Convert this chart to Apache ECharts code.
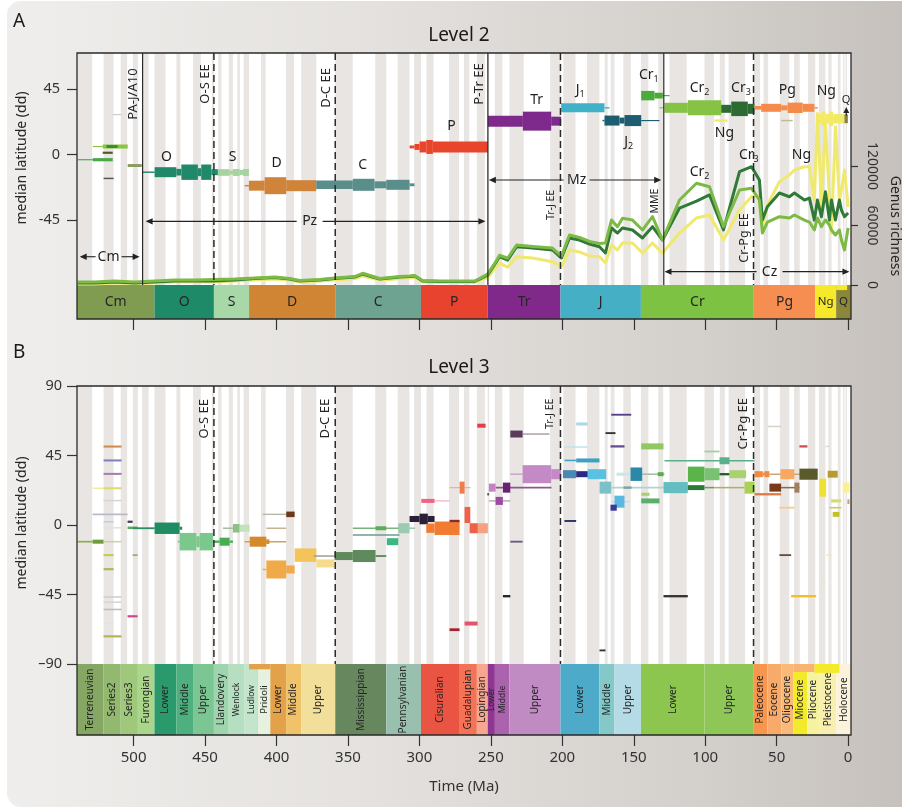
<!DOCTYPE html>
<html><head><meta charset="utf-8">
<script src="https://cdn.jsdelivr.net/npm/echarts@6.0.0/dist/echarts.min.js"></script>
<style>
html,body{margin:0;padding:0;background:#fff;width:902px;height:809px;overflow:hidden}
#bg{position:absolute;left:7px;top:1px;width:910px;height:806px;border-radius:14px;background:linear-gradient(to right,#efeeec 0%,#e4e1de 40%,#d4d0cc 75%,#c5c0bc 100%)}
#chart{position:absolute;left:0;top:0;width:902px;height:809px}
</style></head><body><div id="bg"></div><div id="chart"></div>
<script>
// ================= DATA =================
const timeTicks = [0,50,100,150,200,250,300,350,400,450,500];
const latTicksA = [-45,0,45];
const latTicksB = [-90,-45,0,45,90];
const richTicks = [0,60000,120000];

// stage boundaries (Ma) -> alternating background stripes
const stageBounds = [541,529,521,514,509,504.5,500.5,497,494,489.5,485.4,477.7,470,467.3,458.4,453,445.2,443.8,440.8,438.5,433.4,430.5,427.4,425.6,423,419.2,410.8,407.6,393.3,387.7,382.7,372.2,358.9,346.7,330.9,323.2,315.2,307,303.7,298.9,295,290.1,279.3,272.3,268.8,265.1,259.8,254.2,252.2,251.2,247.2,242,237,227,208.5,201.3,199.3,190.8,182.7,174.1,170.3,168.3,166.1,163.5,157.3,152.1,145,139.8,132.9,129.4,125,113,100.5,93.9,89.8,86.3,83.6,72.1,66,61.6,59.2,56,47.8,41.2,37.8,33.9,28.1,23.03,20.44,15.97,13.82,11.62,7.246,5.333,3.6,2.58,1.8,0.781,0.126,0.0117,-2];

// Level 2 time scale (periods, as drawn)
const periodNames = ['Cm','O','S','D','C','P','Tr','J','Cr','Pg','Ng','Q'];
const periodStart = [541,485.4,443.8,419.2,358.9,298.9,252.2,201.3,145,66,23,8.4];
const periodEnd   = [485.4,443.8,419.2,358.9,298.9,252.2,201.3,145,66,23,8.4,-2];
const overhangA = [[8.4,0.7,'Ng']];

// Level 3 time scale (epochs, as drawn)
const epochNames = ['Terreneuvian','Series2','Series3','Furongian','Lower','Middle','Upper','Llandovery','Lower','Wenlock','Ludlow','Pridoli','Middle','Upper','Mississippian','Pennsylvanian','Cisuralian','Guadalupian','Lopingian','Lower','Middle','Upper','Lower','Middle','Upper','Lower','Upper','Paleocene','Eocene','Oligocene','Miocene','Pliocene','Pleistocene','Holocene'];
const epochStart = [541,521,509,497,485.4,470,458.4,443.8,419.2,433.4,422.3,413.2,393.3,382.7,358.9,323.2,298.9,272.3,259.8,252.2,247.2,237,201.3,174.1,163.5,145,100.5,66,56.5,46.7,38.3,28.5,20.1,8.2];
const epochEnd   = [521,509,497,485.4,470,458.4,443.8,433.4,393.3,422.3,413.2,404.3,382.7,358.9,323.2,298.9,272.3,259.8,252.2,247.2,237,201.3,174.1,163.5,145,100.5,66,56.5,46.7,38.3,28.5,20.1,8.2,-2];
const epochLabelAt = {8: 398.8};
const overhangB = [[419.2,404.3,'dev'],[38.3,23.5,'pg'],[23.5,6.1,'ng']];

// Genus richness curves
const richTime = [539.1,527.3,513.3,499.3,485.3,471.3,457.3,443.9,429.2,415.2,401.2,390.8,383.8,369.8,359.3,345.3,339.7,327.8,320.8,313.8,306.8,303.3,297.8,285.9,271.9,261.4,257.9,252.3,248.1,243.9,238.3,232.0,220.8,206.9,200.6,195.0,188.0,181.0,174.0,169.8,165.6,161.4,157.9,150.9,143.9,136.9,129.9,118.0,106.1,97.0,87.2,76.0,67.6,62.1,60.0,56.5,48.1,41.1,37.6,30.6,27.1,23.6,21.5,18.7,15.9,13.1,11.7,8.9,6.1,4.7,2.6,0];
const richDark = [2000,2000,3000,2000,3000,4000,4000,4000,5000,6500,7500,6000,4000,5000,6500,8000,11000,6000,7000,8000,8500,9000,4000,3500,3500,3500,6000,10000,19000,28500,25000,38600,37300,35300,27200,47400,45400,41300,38600,32300,57500,52400,57500,55500,47400,58800,45400,77600,84700,90800,55500,114300,119300,106000,65500,79000,92800,89000,92800,85700,87700,65500,85700,68900,94000,65500,85700,65500,85700,75600,68900,72600];
const richLight = [3000,3000,4000,3000,4000,5000,5000,5500,6000,7000,8000,6500,4500,5500,7000,8500,11800,6500,7500,8500,9000,9500,4500,4000,4000,4000,6500,11000,20000,30000,27000,40300,38800,37300,29200,50400,47900,43900,41800,42300,65500,58800,67300,65500,55500,68900,45400,85700,102600,99100,58800,95800,97500,85700,52400,63500,68900,67600,70600,65500,63500,55500,67600,58800,65500,60500,55500,50400,55500,45400,35300,57500];
const richYellow = [1000,1000,2000,1500,2000,3000,3000,3000,4000,5000,6000,5000,3000,4000,5000,6500,9000,5000,5500,6500,7000,7500,3000,2500,2500,2500,5000,7000,15000,22000,18000,28500,27200,23500,18500,35300,33300,29200,28500,22200,40300,35300,42400,42400,32300,42400,32300,52400,67600,70600,45400,75600,89000,89700,58800,80700,104200,111000,116000,119300,119300,85700,173000,79000,166000,85700,52400,159700,85700,95800,116000,78700];

// Level 2 kites: [group, median latitude, from (Ma), to (Ma), thickness (deg)]
const l2Rows = [
 ['cmG',-3.6,539,528.6,0.8],['cmG',-3.6,528.6,514.6,2.2],
 ['cmL',5.5,528.6,521.6,0.8],['cmL',5.5,521.6,504.1,2.8],['cmD',5.5,519,511.2,2],
 ['cmK',1.2,521.6,514.6,1.5],['cmX',-16.5,521,514,1],['cmY',27.5,514.6,508.3,0.6],['cmO',-7.6,504.1,494.3,2],
 ['O',-12.2,493.7,485.3,1],['O',-12.2,485.3,470.1,6.9],['O',-12.2,470.1,466.6,4.6],['O',-12.2,466.6,455,10.6],['O',-12.2,455,452.7,5.5],['O',-12.2,452.7,445.6,10.6],['O',-12.2,445.6,441,4.1],
 ['S',-12.4,441,432.8,4.6],['S',-12.4,432.8,430.5,2.8],['S',-12.4,430.5,425.8,4.8],['S',-12.4,425.8,423.5,3.4],['S',-12.4,423.5,419.3,4.8],
 ['D',-21.5,422.3,419.3,1],['D',-21.5,419.3,408.3,6.9],['D',-21.5,408.3,393.2,11.7],['D',-21.5,393.2,372.2,7.6],
 ['C',-20.9,372.2,346.6,5.8],['C',-20.9,346.6,331.4,8.3],['C',-20.9,331.4,323.2,4.8],['C',-20.9,323.2,306.9,6.9],['C',-20.9,306.9,303.4,2],
 ['P',5.2,306.9,303.4,2],['P',5.2,303.4,299.9,4.1],['P',5.2,299.9,295.2,7.6],['P',5.2,295.2,290.6,9.6],['P',5.2,290.6,252.1,7.6],
 ['Tr',23,252.1,227.6,7.6],['Tr',23,227.6,207.8,13.1],['Tr',23,207.8,200.8,6.2],
 ['J1',32.2,200.8,170.5,6.2],['J1',32.2,170.5,167,1],
 ['J2',23.4,171.9,170.5,1],['J2',23.4,170.5,160,6.9],['J2',23.4,160,156.5,4.1],['J2',23.4,156.5,144.8,7.6],['J2',23.4,144.8,132,0.8],
 ['Cr1',40.6,144.8,135.5,6.5],['Cr1',40.6,135.5,129.7,4],['Cr1',40.6,129.7,125,0.8],
 ['Cr2',32.2,132,128.5,0.8],['Cr2',32.2,128.5,112.2,6.9],['Cr2',32.2,112.2,88.8,10.3],
 ['Cr3',31.5,88.8,81.8,5.5],['Cr3',31.5,81.8,70.2,10],['Cr3',31.5,70.2,65.5,6.9],
 ['NgL',23.4,93.5,84.4,1.6],['PgG',23.4,46.9,38.8,1],
 ['Pg',32.2,65.5,60.9,2.5],['Pg',32.2,60.9,46.9,5.5],['Pg',32.2,46.9,42.3,3.4],['Pg',32.2,42.3,31.8,7.2],['Pg',32.2,31.8,23.6,5.5],['Pg',32.2,23.6,21.3,1],
 ['Ng',24.6,22.4,18.7,6.5],['Ng',24.6,18.7,15.9,10],['Ng',24.6,15.9,13.1,6.5],['Ng',24.6,13.1,10.5,10],['Ng',24.6,10.5,2.6,6.5],
 ['Q',24.6,2.6,0.2,6]
];

// Level 3 kites: [group, median latitude, from (Ma), to (Ma), thickness (deg)]
const l3Rows = [
 ['c1',50.8,521,508.4,1.3],['c2',41.8,521,508.4,1.3],['c3',33.1,521,508.4,1.3],['c4a',23.8,528.7,521,1],['c4',23.8,521,508.4,1.3],
 ['c5',15.8,521,508.4,1],['c6',6.9,528.7,504.2,1.1],['c7',2.1,521,514,1],['c8',2.1,504.2,500.7,1.5],['c9',-1.8,521,508.4,1],
 ['c10',-1.8,504.2,497.2,1.6],['c11',-10.8,539.1,528.7,1.1],['c12',-10.8,528.7,521,2.6],['c13',-10.8,521,508.4,1],
 ['c14',-19.5,521,514,1.4],['c15',-19.5,500.7,497.2,1.1],['c16',-28.6,521,514,1.4],['c17',-46.6,521,508.4,1],['c5',-50,521,508.4,1],
 ['c18',-54.7,521,508.4,1],['c19',-59.1,504.2,497.2,1.4],['c9',-63.8,521,514,1],['c16',-72.1,521,508.4,1.4],
 ['o0',-2.1,500.7,485.3,1.2],['o1',-2.1,485.3,467.8,7.4],['o1',-2.1,467.8,466,2],
 ['o2',-10.8,469,467.8,1.2],['o2',-10.8,467.8,456.1,11.3],['o2',-10.8,456.1,453.8,7],['o2',-10.8,453.8,444.5,11.3],
 ['o3',-10.8,444.5,439.8,1.5],['o3',-10.8,439.8,432.8,5.2],['o3',-10.8,432.8,430.5,1.5],
 ['s0',-2.1,437.5,430.5,1],['s1',-2.1,430.5,425.8,5.5],['s2',-2.1,425.8,418.8,4.6],
 ['d0',-10.8,422.3,393.2,1],['d1',-10.8,418.8,407.1,6.5],['d1',-10.8,407.1,405,3],['d2',6.9,409.7,393.2,0.9],['d3',-2.1,407.1,393.2,0.9],
 ['d4',6.9,393.2,387.3,3.6],['d5',-28.8,409.7,407.1,1],['d5',-28.8,407.1,393.2,11.7],['d5',-28.8,393.2,387.3,5.2],
 ['d6',-19.5,387.3,372.1,8.7],['d7',-24.9,372.1,359.4,5.2],
 ['k0',-20.1,374,359.4,1],['k1',-20.1,359.4,346.6,5.2],['k1',-20.1,346.6,330.7,7.8],['k1',-20.1,330.7,323.2,1.2],
 ['k2',-2.1,346.6,306.9,1],['k3',-2.1,330.7,323.2,2.6],['k4',-6.5,346.6,313.9,1],['k5',-10.8,322.8,314.8,4.5],
 ['k6',-2.1,314.8,306.9,6.5],['k6',-2.1,306.9,303,1],
 ['p1',3.9,306.9,299.9,3.9],['p1',3.9,299.9,294.1,6.9],['p1',3.9,294.1,289.4,3.9],
 ['p2',-2.1,295.2,289.4,6],['p2',-2.1,289.4,271.9,8.7],['p3',2.6,278.9,271.9,1.5],
 ['p4',15.6,298.7,289.4,2.6],['p4l',15.6,289.4,278.9,0.8],['p5l',24.2,278.9,264.2,0.8],['p5',24.2,271.9,268.4,7.8],
 ['p6',6.5,268.4,264.4,10.4],['p7',-2.1,264.9,259.1,6.5],['p8',-2.1,259.1,252.1,6.5],['p9',64.3,259.5,253.7,2.6],
 ['p10',-67.8,278.9,271.9,1.8],['p11',-63.8,268.4,259.3,2.6],
 ['t1',-46.1,241.6,236.4,1.5],['t2',-10.8,236.4,227.8,1.2],['t3l',24.2,246.7,207.6,1.2],['t3',24.2,251.4,246.7,5.2],
 ['t4',24.2,241.6,236.4,6.5],['t5l',15.6,251.4,236.4,0.8],['t5',15.6,246.7,241.6,5.2],['t6l',58.9,227.8,209,0.8],
 ['t6',58.9,236.4,227.8,4.5],['t7l',32.9,236.4,227.8,1],['t7',32.9,227.8,207.8,11.7],['t7',32.9,207.8,200.8,6.5],['t8',19.9,252.5,251.2,1.5],
 ['j1',65.4,190.3,182.2,2],['j2',50.5,198.5,182.2,1],['j3',41.8,198.5,190.3,1],['j3',41.8,190.3,174,2.6],
 ['j4',32.9,199.6,190.3,5.2],['j5',32.9,190.3,182.2,3.9],['j6',32.9,182.2,169.3,6.5],['j7',2.6,198.5,190.3,1.2],
 ['j8',71.4,165.8,151.8,1.2],['j9',59.5,169.8,162.8,1.2],['j10',50.9,166.3,156.5,1.5],['j11',32.9,162.1,153,2],
 ['j13l',32.9,144.1,128.5,1],['j12',32.9,152.3,144.1,8.7],['k7',32.9,133.2,129.2,2.6],['k8',50.9,144.8,129.2,3.9],
 ['j14l',24.2,165.8,128.5,1],['j14',24.2,174,165.8,7.8],['j15',24.2,157.2,151.6,1.5],['j16l',15.1,165.6,153,0.8],
 ['j16',15.1,163.5,156.5,7.8],['j17',11.2,166.3,161.9,3.9],['k9',19.9,144.8,139,2],['k10',15.6,144.8,132,3.2],['j18',-81.2,174,169.8,1.2],
 ['k11',41.6,128.5,65.5,1],['k11',41.6,90,83,4.5],['k12',47.6,100.5,90,1.2],['k13',24.2,129.2,112.2,7.2],
 ['k14',24.2,112.2,100.5,3.2],['k14l',24.2,100.5,93.5,1],['k15',32.9,112.2,100.5,9.8],['k16',32.9,100.5,90,7.8],
 ['k17',32.9,90,83,1.5],['k18',32.9,83,71.4,5.2],['k19l',24.2,93.5,72.5,1],['k19',24.2,72.5,65.5,7.8],['k20',-46.1,129.2,112.2,1.5],
 ['g0',32.9,55.1,21.5,1],['g1',32.9,65.5,59.7,3.9],['g1',32.9,59.7,58.6,2],['g1',32.9,58.6,55.1,3.9],['g2',32.9,47.4,37.6,6.5],
 ['g3',32.9,34.1,21.3,7.2],['g4',32.9,14.3,7.3,4.5],['g5',63.8,56.5,46.7,1],['g6',50.9,34.1,28.5,1.5],['g7',50.9,15.9,13.1,1],
 ['g8l',24.2,47.4,34.1,1],['g8',24.2,55.1,46.9,5.2],['g9',24.2,37.6,34.1,6.5],['g10',19.9,65.5,46.9,1.5],['g11',24.2,20.1,15.4,11.7],
 ['g12',24.2,3.8,-0.9,6.5],['g13',15.6,11.9,4.9,2],['g14',6.9,10.8,6.1,3.2],['g15',11.2,13.1,4.7,1],['g16',11.2,48.1,37.6,1.2],
 ['g17',-19.5,48.1,39.9,1.2],['g18',-46.1,39.9,22.4,1.5],['g19',-19.5,15.2,11,1],['g20',-37.5,18.7,15.9,0.8],['g21',15.1,0.5,-0.9,3]
];

// extinction events / boundaries
const eventNamesA = ['PA-J/A10','O-S EE','D-C EE','P-Tr EE','Tr-J EE','MME','Cr-Pg EE'];
const eventAgesA = [493.7,443.8,358.9,252.1,201.3,129.0,66.2];
const eventLabelLatA = [41.7,48.6,45.9,48.6,-34.8,-32.1,-57.6];
const eventNamesB = ['O-S EE','D-C EE','Tr-J EE','Cr-Pg EE'];
const eventAgesB = [443.8,358.9,201.3,66.2];
const eventLabelLatB = [68.8,68.8,72,65.6];

// era arrows: [label, from (Ma), to (Ma), latitude, label age]
const arrowsA = [['Cm',537.7,495.8,-70.5,517.5],['Pz',491.6,253.8,-46.1,376.8],['Mz',251.4,130.8,-17.6,190],['Cz',128.5,-0.9,-80.8,55]];
const qArrow = [1.3,26.8,32.8];

// kite / curve labels: [text, subscript, age, latitude]
const labelsA = [['O','',477,-1.7],['S','',430.7,-1.7],['D','',400,-5.9],['C','',339.7,-7.2],['P','',277.5,19.7],['Tr','',218,37.6],
 ['J','1',187.5,44.5],['J','2',153.5,8.6],['Cr','1',139.5,54.8],['Cr','2',104,45.9],['Cr','3',75,45.9],['Pg','',42.5,44.5],
 ['Ng','',15.3,43.8],['Q','',1.4,37.8],['Ng','',86.6,14.8],['Cr','2',104,-12.1],['Cr','3',69.5,-0.3],['Ng','',32.7,-0.3]];

// ================= STYLE =================
const FONT = "'Noto Sans','Open Sans',sans-serif";
const TXT = '#262626';
const stripeColor = '#e8e5e3';
const periodColors = ['#7f9c50','#1f8a68','#a9d8a8','#cf8533','#6ea392','#e8432e','#80298b','#45afc5','#7dc242','#f58e50','#f6e82a','#8b8639'];
const epochColors = ['#86a764','#93b86f','#a0c87d','#aad68b','#2a9a6c','#4db07e','#7cc693','#9ed5ae','#e3a24a','#b6dfc1','#c3e5cc','#e6f2df','#f0c26a','#f1df9a','#67885f','#99bfae','#ea5543','#f47357','#f5a790','#8f3592','#ab63ad','#c08bc3','#4eaac9','#84c8c8','#b5dce6','#8dc64f','#8ec758','#f8964e','#f8aa6a','#f9b978','#f2ea2a','#f6f3a0','#f7f0b0','#fbf3dc'];
const overColors = {Ng:'#f6e82a', dev:'#e3a24a', pg:'#f8b470', ng:'#f2ea2a'};
const overFracA = {Ng:0.15};
const overFracB = {dev:0.075, pg:0.113, ng:0.125};
const epochFont = {8:10,9:8.5,10:8.5,11:9.5,19:8,20:8.5};
const l2Colors = {cmG:'#4aa84a',cmL:'#8cc63f',cmD:'#2f8f3a',cmK:'#55552e',cmX:'#555555',cmY:'#c8c8c8',cmO:'#8a9a5b',
 O:'#21896a',S:'#a6d3a0',D:'#d0843a',C:'#5a8e8a',P:'#e8452c',Tr:'#7d2a8c',J1:'#40b1c8',J2:'#1d5d70',Cr1:'#4aaa3a',
 Cr2:'#86c244',Cr3:'#2e6b34',Pg:'#f48b4a',Ng:'#f2ea64',Q:'#8b8236',NgL:'#f2ea64',PgG:'#c8b890'};
const l3Colors = {c1:'#d0894a',c2:'#7f7fc0',c3:'#a77ab0',c4a:'#f0ee9a',c4:'#d9dc6a',c5:'#d6d6d6',c6:'#b9b9cc',c7:'#bfcde6',c8:'#4b3b5b',c9:'#e2e2e2',
 c10:'#5aac5a',c11:'#86b04a',c12:'#6e9e3c',c13:'#cfcfa8',c14:'#c9c955',c15:'#a5a565',c16:'#b4b455',c17:'#cfcfcf',c18:'#bdbdbd',c19:'#d1458a',
 o0:'#2b8f63',o1:'#1f8c63',o2:'#7bc78c',o3:'#46ad52',s0:'#a0c0a0',s1:'#8fbf89',s2:'#c3e2b9',
 d0:'#c9a561',d1:'#d5882c',d2:'#b7b7a7',d3:'#bfae8a',d4:'#6d3a19',d5:'#f0aa4a',d6:'#f4c45b',d7:'#f6da8e',
 k0:'#a0a090',k1:'#5e8a5d',k2:'#78b478',k3:'#5aae5a',k4:'#709a8c',k5:'#3bb882',k6:'#9ec9b2',
 p1:'#2b1f3a',p2:'#f17c31',p3:'#8a2a2a',p4:'#f06385',p4l:'#f3b0c0',p5l:'#f0b098',p5:'#f07b4b',p6:'#f0614a',p7:'#ee6149',p8:'#f6a182',p9:'#e83b4a',p10:'#a02232',p11:'#e8526c',
 t1:'#222222',t2:'#6a5a7a',t3l:'#8a5a8a',t3:'#c483c4',t4:'#6b2171',t5l:'#b690b6',t5:'#9a4aa1',t6l:'#9a8a9a',t6:'#5b3b5b',t7l:'#c9a8ca',t7:'#c48ac6',t8:'#4a5a2a',
 j1:'#a9d9ec',j2:'#c3e2ee',j3:'#3fa1c2',j4:'#4a89b1',j5:'#2a2a80',j6:'#5bc1e1',j7:'#2a2a60',j8:'#5b3b8b',j9:'#333333',j10:'#6b4b9b',j11:'#c9e5ed',
 j12:'#2a89a8',j13l:'#a0c0a8',j14l:'#b0d2d2',j14:'#7ac1c8',j15:'#7aa1a1',j16l:'#b8dcef',j16:'#5bb8e1',j17:'#3a3a9b',j18:'#333333',
 k7:'#5aab4a',k8:'#91c861',k9:'#a9d171',k10:'#5ab06b',k11:'#5ab08a',k12:'#a1d1a1',k13:'#63bdc1',k14:'#2a7a3a',k14l:'#6a9a6a',k15:'#5ab44b',
 k16:'#7ac171',k17:'#2a5a2a',k18:'#a9d171',k19l:'#b1b161',k19:'#a9d152',k20:'#333333',
 g0:'#c9a879',g1:'#f08a41',g2:'#f8a861',g3:'#5a5a2a',g4:'#b89a31',g5:'#d9d1c1',g6:'#d05050',g7:'#e1d9d1',g8l:'#8a6a50',g8:'#7a3a1a',
 g9:'#a08060',g10:'#e07a40',g11:'#f0e031',g12:'#f8f091',g13:'#d9d971',g14:'#c1c121',g15:'#c9c961',g16:'#f8c891',g17:'#6a4a3a',
 g18:'#f0c021',g19:'#f0e8b0',g20:'#ece4c0',g21:'#c0a070'};
const solidEvents = {'PA-J/A10':true,'P-Tr EE':true,'MME':true};
const eventFontA = {'Tr-J EE':10.5,'MME':10.5,'Cr-Pg EE':12.5};
const eventFontB = {'Tr-J EE':10.5};
const smallLabel = {Q:11};

// ================= RENDER =================
const AGE_MIN = -2, AGE_MAX = 539.6;
const BAR_A_MAX = 266/34, BAR_B_MAX = 349/71;
const chart = echarts.init(document.getElementById('chart'));

function clip(r, cs){ return echarts.graphic.clipRectByRect(r,{x:cs.x,y:cs.y,width:cs.width,height:cs.height}); }
function spanRect(api,t0,t1,v0,v1){
  const a = api.coord([t0,v1]), b = api.coord([t1,v0]);
  return {x:Math.min(a[0],b[0]), y:Math.min(a[1],b[1]), width:Math.abs(b[0]-a[0]), height:Math.abs(b[1]-a[1])};
}
const stripeSpans = [];
for (let i=0;i<stageBounds.length-1;i+=2) stripeSpans.push([stageBounds[i],stageBounds[i+1],0]);

function stripeSeries(xi,yi){
  return {type:'custom', xAxisIndex:xi, yAxisIndex:yi, z:1, silent:true, encode:{x:[0,1],y:2},
    data: stripeSpans,
    renderItem:(p,api)=>{
      const a = api.coord([api.value(0),1]), b = api.coord([api.value(1),1]);
      const cs = p.coordSys;
      const r = {x:Math.min(a[0],b[0]), y:cs.y, width:Math.abs(b[0]-a[0]), height:a[1]-cs.y};
      const c = clip(r,cs); if(!c) return null;
      return {type:'rect', shape:c, style:{fill:stripeColor}};
    }};
}
function barSeries(xi,yi,starts,ends,names,colors,fontFn,rot,labelAt){
  return {type:'custom', xAxisIndex:xi, yAxisIndex:yi, z:2, silent:true, encode:{x:[0,1],y:2},
    data: starts.map((s,i)=>[s,ends[i],0]),
    renderItem:(p,api)=>{
      const i = p.dataIndex;
      const c = clip(spanRect(api,starts[i],ends[i],0,1),p.coordSys); if(!c) return null;
      let cx = c.x + c.width/2;
      if (labelAt && labelAt[i] !== undefined) cx = api.coord([labelAt[i],0])[0];
      return {type:'group', children:[
        {type:'rect', shape:c, style:{fill:colors[i]}},
        {type:'text', x:cx, y:c.y+c.height/2, rotation: rot?Math.PI/2:0, z2:5,
         style:{text:names[i], fontSize:fontFn(i), fontFamily:FONT, fill:TXT, align:'center', verticalAlign:'middle'}}
      ]};
    }};
}
function overSeries(xi,yi,rows,fracs,z){
  return {type:'custom', xAxisIndex:xi, yAxisIndex:yi, z:z, silent:true, encode:{x:[0,1],y:2},
    data: rows.map(r=>[r[0],r[1],1]),
    renderItem:(p,api)=>{
      const r = rows[p.dataIndex];
      const c = clip(spanRect(api,r[0],r[1],1-fracs[r[2]],1),p.coordSys); if(!c) return null;
      return {type:'rect', shape:c, style:{fill:overColors[r[2]]}};
    }};
}
function kiteSeries(xi,yi,rows,colors){
  return {type:'custom', xAxisIndex:xi, yAxisIndex:yi, z:5, silent:true, encode:{x:[0,1],y:2},
    data: rows.map(r=>[r[2],r[3],r[1]]),
    renderItem:(p,api)=>{
      const r = rows[p.dataIndex];
      const rect = spanRect(api,r[2],r[3],r[1]-r[4]/2,r[1]+r[4]/2);
      if (rect.height < 1.1){ rect.y += rect.height/2-0.55; rect.height = 1.1; }
      const c = clip(rect,p.coordSys); if(!c) return null;
      return {type:'rect', shape:c, style:{fill:colors[r[0]]}};
    }};
}
function eventSeries(xi,yi,names,ages,labLat,fonts,offset){
  return {type:'custom', xAxisIndex:xi, yAxisIndex:yi, z:8, silent:true, encode:{x:0,y:1},
    data: ages.map((t,i)=>[t,labLat[i]]),
    renderItem:(p,api)=>{
      const i = p.dataIndex, cs = p.coordSys;
      const pt = api.coord([ages[i],labLat[i]]);
      const solid = !!solidEvents[names[i]];
      return {type:'group', children:[
        {type:'line', shape:{x1:pt[0],y1:cs.y,x2:pt[0],y2:cs.y+cs.height},
         style:{stroke:'#2a2a2a', lineWidth: solid?1.2:1.5, lineDash: solid?null:[7,4]}},
        {type:'text', x:pt[0]-offset, y:pt[1], rotation:Math.PI/2,
         style:{text:names[i], fontSize:fonts[names[i]]||13, fontFamily:FONT, fill:TXT, align:'center', verticalAlign:'middle'}}
      ]};
    }};
}
function lineSeries(vals,color,z){
  return {type:'line', xAxisIndex:1, yAxisIndex:2, z:z, silent:true, symbol:'none', clip:true,
    data: richTime.map((t,i)=>[t,vals[i]]),
    lineStyle:{color:color,width:3,join:'round'}};
}
const richLab = {m:{fontSize:14,fontFamily:FONT,fill:'#1e1e1e',lineHeight:18},
  q:{fontSize:11,fontFamily:FONT,fill:'#1e1e1e',lineHeight:18},
  s:{fontSize:9,fontFamily:FONT,fill:'#1e1e1e',lineHeight:9,verticalAlign:'bottom'}};
const HID = {show:false};
const hiddenAxis = (type,grid,min,max,inv)=>({type:type,gridIndex:grid,min:min,max:max,inverse:!!inv,show:false,
  axisLine:{show:false,onZero:false},axisTick:HID,axisLabel:HID,splitLine:HID,minorTick:HID,minorSplitLine:HID});

const option = {
  animation:false,
  backgroundColor:'transparent',
  grid:[
    {left:77,top:53,width:774,height:266,show:true,backgroundColor:'#ffffff',borderWidth:0},
    {left:77,top:53,width:774,height:232,show:false},
    {left:77,top:386,width:774,height:349,show:true,backgroundColor:'#ffffff',borderWidth:0},
    {left:77,top:386,width:774,height:278,show:false}
  ],
  xAxis:[
    {type:'value',gridIndex:0,min:AGE_MIN,max:AGE_MAX,inverse:true,splitLine:HID,axisLine:{show:false,onZero:false},
     axisTick:{show:true,customValues:timeTicks,length:11,lineStyle:{color:'#333',width:1.2}},axisLabel:HID},
    hiddenAxis('value',1,AGE_MIN,AGE_MAX,true),
    {type:'value',gridIndex:2,min:AGE_MIN,max:AGE_MAX,inverse:true,splitLine:HID,axisLine:{show:false,onZero:false},
     axisTick:{show:true,customValues:timeTicks,length:11,lineStyle:{color:'#333',width:1.2}},
     axisLabel:{show:true,customValues:timeTicks,fontSize:15,fontFamily:FONT,color:'#333',margin:15},
     name:'Time (Ma)',nameLocation:'middle',nameGap:44,nameTextStyle:{fontSize:15,fontFamily:FONT,color:'#333'}},
    hiddenAxis('value',3,AGE_MIN,AGE_MAX,true)
  ],
  yAxis:[
    hiddenAxis('value',0,0,BAR_A_MAX,false),
    {type:'value',gridIndex:1,min:-90,max:70,position:'left',splitLine:HID,axisLine:{show:false,onZero:false},
     axisTick:{show:true,customValues:latTicksA,length:10,lineStyle:{color:'#333',width:1.2}},
     axisLabel:{customValues:latTicksA,fontSize:14.5,fontFamily:FONT,color:'#333',margin:17}},
    {type:'value',gridIndex:1,min:0,max:234000,position:'right',splitLine:HID,axisLine:{show:false,onZero:false},
     axisTick:{show:true,customValues:richTicks,length:7,lineStyle:{color:'#333',width:1.2}},
     axisLabel:{customValues:richTicks,rotate:-90,fontSize:14,fontFamily:FONT,color:'#333',margin:14,formatter:v=>String(v)}},
    hiddenAxis('value',2,0,BAR_B_MAX,false),
    {type:'value',gridIndex:3,min:-90,max:90,position:'left',splitLine:HID,axisLine:{show:false,onZero:false},
     axisTick:{show:true,customValues:latTicksB,length:10,lineStyle:{color:'#333',width:1.2}},
     axisLabel:{customValues:latTicksB,fontSize:14.5,fontFamily:FONT,color:'#333',margin:15,
       formatter:v=>String(v).replace('-','\u2013')}}
  ],
  graphic:[
    {type:'text',x:13,y:12,style:{text:'A',fontSize:19,fontFamily:FONT,fill:'#1a1a1a'}},
    {type:'text',x:13,y:343,style:{text:'B',fontSize:19,fontFamily:FONT,fill:'#1a1a1a'}},
    {type:'text',x:459,y:36,style:{text:'Level 2',fontSize:19,fontFamily:FONT,fill:'#1a1a1a',align:'center',verticalAlign:'middle'}},
    {type:'text',x:459,y:368,style:{text:'Level 3',fontSize:19,fontFamily:FONT,fill:'#1a1a1a',align:'center',verticalAlign:'middle'}},
    {type:'text',x:22,y:158,rotation:Math.PI/2,style:{text:'median latitude (dd)',fontSize:14,fontFamily:FONT,fill:'#262626',align:'center',verticalAlign:'middle'}},
    {type:'text',x:22,y:523,rotation:Math.PI/2,style:{text:'median latitude (dd)',fontSize:14,fontFamily:FONT,fill:'#262626',align:'center',verticalAlign:'middle'}},
    {type:'text',x:895,y:226,rotation:-Math.PI/2,style:{text:'Genus richness',fontSize:14,fontFamily:FONT,fill:'#262626',align:'center',verticalAlign:'middle'}}
  ],
  series:[
    stripeSeries(0,0),
    barSeries(0,0,periodStart,periodEnd,periodNames,periodColors,i=>(i>=10?11.5:14),false,null),
    overSeries(0,0,overhangA,overFracA,3),
    stripeSeries(2,3),
    barSeries(2,3,epochStart,epochEnd,epochNames,epochColors,i=>(epochFont[i]||10),true,epochLabelAt),
    overSeries(2,3,overhangB,overFracB,3),
    lineSeries(richYellow,'#efe96e',4),
    lineSeries(richDark,'#2f7a36',4),
    lineSeries(richLight,'#7cba45',4),
    kiteSeries(1,1,l2Rows,l2Colors),
    kiteSeries(3,4,l3Rows,l3Colors),
    eventSeries(1,1,eventNamesA,eventAgesA,eventLabelLatA,eventFontA,9),
    eventSeries(3,4,eventNamesB,eventAgesB,eventLabelLatB,eventFontB,10),
    {type:'custom',xAxisIndex:1,yAxisIndex:1,z:9,silent:true,encode:{x:[1,2],y:3},
     data:arrowsA.map(a=>[a[4],a[1],a[2],a[3]]),
     renderItem:(p,api)=>{
       const a = arrowsA[p.dataIndex];
       const p0 = api.coord([a[1],a[3]]), p1 = api.coord([a[2],a[3]]), pl = api.coord([a[4],a[3]]);
       const y = p0[1], g = 13, st = {stroke:'#222',lineWidth:1.1};
       return {type:'group',children:[
         {type:'line',shape:{x1:p0[0]+2,y1:y,x2:pl[0]-g,y2:y},style:st},
         {type:'line',shape:{x1:pl[0]+g,y1:y,x2:p1[0]-2,y2:y},style:st},
         {type:'polygon',shape:{points:[[p0[0],y],[p0[0]+7,y-3.2],[p0[0]+7,y+3.2]]},style:{fill:'#222'}},
         {type:'polygon',shape:{points:[[p1[0],y],[p1[0]-7,y-3.2],[p1[0]-7,y+3.2]]},style:{fill:'#222'}},
         {type:'text',x:pl[0],y:y,style:{text:a[0],fontSize:14,fontFamily:FONT,fill:'#1e1e1e',align:'center',verticalAlign:'middle'}}
       ]};
     }},
    {type:'custom',xAxisIndex:1,yAxisIndex:1,z:9,silent:true,encode:{x:0,y:[1,2]},
     data:[qArrow],
     renderItem:(p,api)=>{
       const b = api.coord([qArrow[0],qArrow[1]]), t = api.coord([qArrow[0],qArrow[2]]);
       return {type:'group',children:[
         {type:'line',shape:{x1:b[0],y1:b[1],x2:t[0],y2:t[1]+4},style:{stroke:'#222',lineWidth:1.2}},
         {type:'polygon',shape:{points:[[t[0],t[1]],[t[0]-3,t[1]+6],[t[0]+3,t[1]+6]]},style:{fill:'#222'}}
       ]};
     }},
    {type:'custom',xAxisIndex:1,yAxisIndex:1,z:9,silent:true,encode:{x:0,y:1},
     data:labelsA.map(l=>[l[2],l[3]]),
     renderItem:(p,api)=>{
       const l = labelsA[p.dataIndex];
       const pt = api.coord([l[2],l[3]]);
       const main = smallLabel[l[0]] ? '{q|'+l[0]+'}' : '{m|'+l[0]+'}';
       return {type:'text',x:pt[0],y:pt[1],
         style:{text: main + (l[1]?'{s|'+l[1]+'}':''), rich:richLab, align:'center', verticalAlign:'middle'}};
     }},
    {type:'custom',xAxisIndex:0,yAxisIndex:0,z:10,silent:true,encode:{x:0,y:1},data:[[0,0]],
     renderItem:(p)=>({type:'rect',shape:{x:p.coordSys.x,y:p.coordSys.y,width:p.coordSys.width,height:p.coordSys.height},
       style:{fill:'none',stroke:'#2a2a2a',lineWidth:1.3}})},
    {type:'custom',xAxisIndex:2,yAxisIndex:3,z:10,silent:true,encode:{x:0,y:1},data:[[0,0]],
     renderItem:(p)=>({type:'rect',shape:{x:p.coordSys.x,y:p.coordSys.y,width:p.coordSys.width,height:p.coordSys.height},
       style:{fill:'none',stroke:'#2a2a2a',lineWidth:1.3}})}
  ]
};
chart.setOption(option);
</script></body></html>
